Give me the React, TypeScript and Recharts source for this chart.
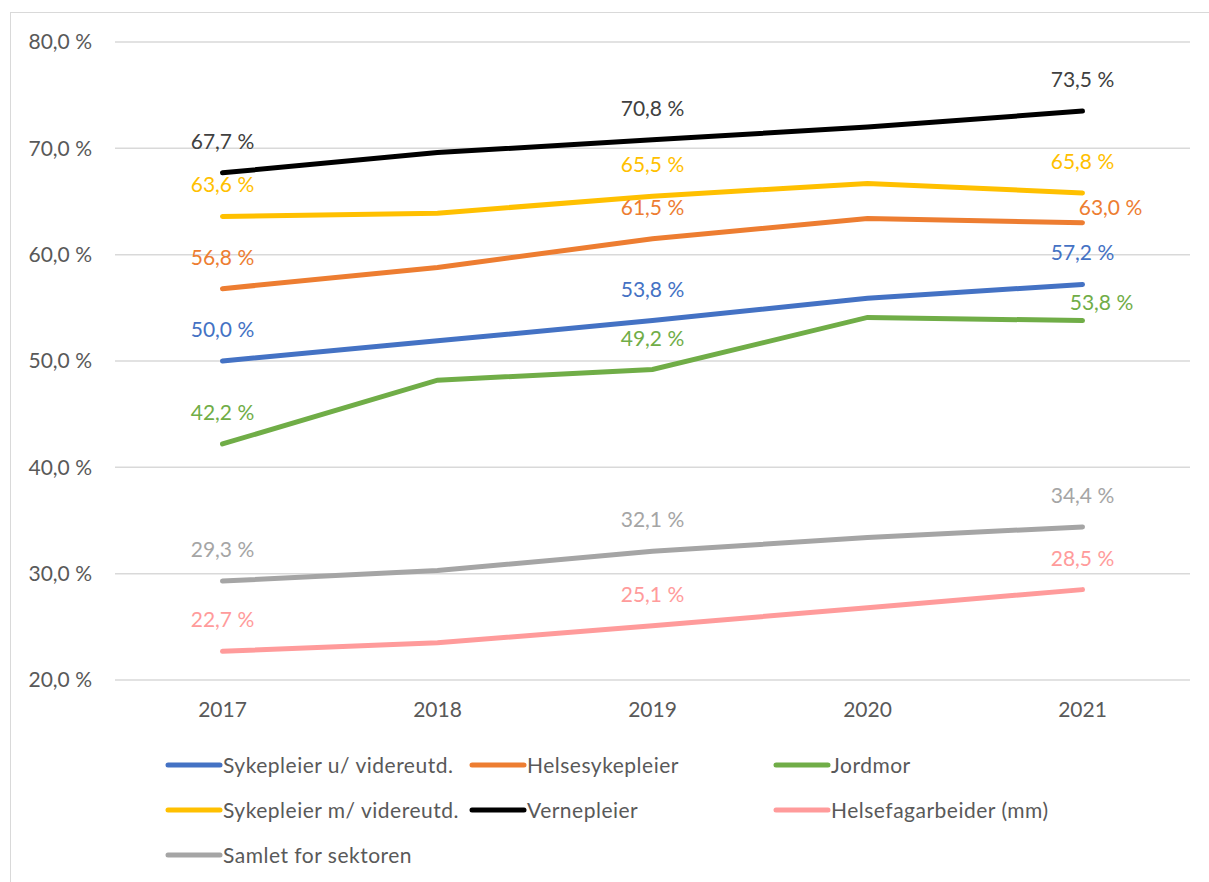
import { LineChart, Line, XAxis, YAxis, CartesianGrid, LabelList } from "recharts";

const years = ["2017", "2018", "2019", "2020", "2021"];
const sykepleierU = [50.0, 51.9, 53.8, 55.9, 57.2];
const helsesykepleier = [56.8, 58.8, 61.5, 63.4, 63.0];
const jordmor = [42.2, 48.2, 49.2, 54.1, 53.8];
const sykepleierM = [63.6, 63.9, 65.5, 66.7, 65.8];
const vernepleier = [67.7, 69.6, 70.8, 72.0, 73.5];
const helsefagarbeider = [22.7, 23.5, 25.1, 26.8, 28.5];
const samlet = [29.3, 30.3, 32.1, 33.4, 34.4];
const labelledYears = ["2017", "2019", "2021"];
const yTicks = [20, 30, 40, 50, 60, 70, 80];

const SERIES = [
  { key: "su", name: "Sykepleier u/ videreutd.", color: "#4472C4", text: "#4472C4", values: sykepleierU },
  { key: "hs", name: "Helsesykepleier", color: "#ED7D31", text: "#ED7D31", values: helsesykepleier },
  { key: "jm", name: "Jordmor", color: "#70AD47", text: "#70AD47", values: jordmor },
  { key: "sm", name: "Sykepleier m/ videreutd.", color: "#FFC000", text: "#FFC000", values: sykepleierM },
  { key: "vp", name: "Vernepleier", color: "#000000", text: "#404040", values: vernepleier },
  { key: "hf", name: "Helsefagarbeider (mm)", color: "#FF9B9B", text: "#FF9B9B", values: helsefagarbeider },
  { key: "sa", name: "Samlet for sektoren", color: "#A5A5A5", text: "#A5A5A5", values: samlet },
];

// a couple of labels Excel pushed aside to avoid collisions
const NUDGE: Record<string, [number, number]> = {
  "hs-4": [28, 16],
  "jm-4": [19, 13],
};

const FONT = "Lato, 'Open Sans', sans-serif";
const fmt = (v: number) => v.toFixed(1).replace(".", ",") + " %";

const data = years.map((year, i) => {
  const row: Record<string, string | number> = { year };
  SERIES.forEach(s => (row[s.key] = s.values[i]));
  return row;
});

function makeLabel(s: (typeof SERIES)[number]) {
  return (props: any) => {
    const { x, y, value, index } = props;
    if (!labelledYears.includes(years[index])) return null;
    const [dx, dy] = NUDGE[`${s.key}-${index}`] || [0, 0];
    return (
      <text x={x + dx} y={y - 24 + dy} textAnchor="middle" fill={s.text} fontSize={21} fontFamily={FONT}>
        {fmt(Number(value))}
      </text>
    );
  };
}

function LegendBox() {
  return (
    <div style={{ position: "absolute", left: 165, top: 752, width: 950, display: "flex", flexWrap: "wrap", fontFamily: FONT, fontSize: 21, letterSpacing: 0.5, color: "#595959" }}>
      {SERIES.map(s => (
        <div key={s.key} style={{ width: 304, height: 45, display: "flex", alignItems: "flex-start", whiteSpace: "nowrap" }}>
          <svg width={58} height={26} style={{ flex: "none" }}>
            <line x1={3} y1={13} x2={55} y2={13} stroke={s.color} strokeWidth={5} strokeLinecap="round" />
          </svg>
          <span style={{ lineHeight: "26px" }}>{s.name}</span>
        </div>
      ))}
    </div>
  );
}

export default function App() {
  return (
    <div style={{ position: "fixed", left: 0, top: 0, width: 1209, height: 882, overflow: "hidden", background: "#fff" }}>
      <div style={{ position: "absolute", left: 10, top: 12, width: 1300, height: 1000, border: "1.5px solid #d9d9d9" }} />
      <LineChart width={1209} height={882} data={data} margin={{ top: 42, right: 19, bottom: 162, left: 0 }} style={{ position: "absolute", left: 0, top: 0 }}>
        <CartesianGrid vertical={false} stroke="#d9d9d9" strokeWidth={1.5} />
        <XAxis
          dataKey="year"
          axisLine={false}
          tickLine={false}
          tickSize={0}
          tickMargin={22}
          height={40}
          padding={{ left: 107.5, right: 107.5 }}
          tick={{ fill: "#595959", fontSize: 21, fontFamily: FONT }}
        />
        <YAxis
          domain={[20, 80]}
          ticks={yTicks}
          width={115}
          axisLine={false}
          tickLine={false}
          tickSize={0}
          tickMargin={23}
          tickFormatter={fmt}
          tick={{ fill: "#595959", fontSize: 21, fontFamily: FONT }}
        />
        {SERIES.map(s => (
          <Line key={s.key} dataKey={s.key} type="linear" stroke={s.color} strokeWidth={5} strokeLinecap="round" dot={false} activeDot={false} isAnimationActive={false}>
            <LabelList dataKey={s.key} content={makeLabel(s)} />
          </Line>
        ))}
      </LineChart>
      <LegendBox />
    </div>
  );
}
